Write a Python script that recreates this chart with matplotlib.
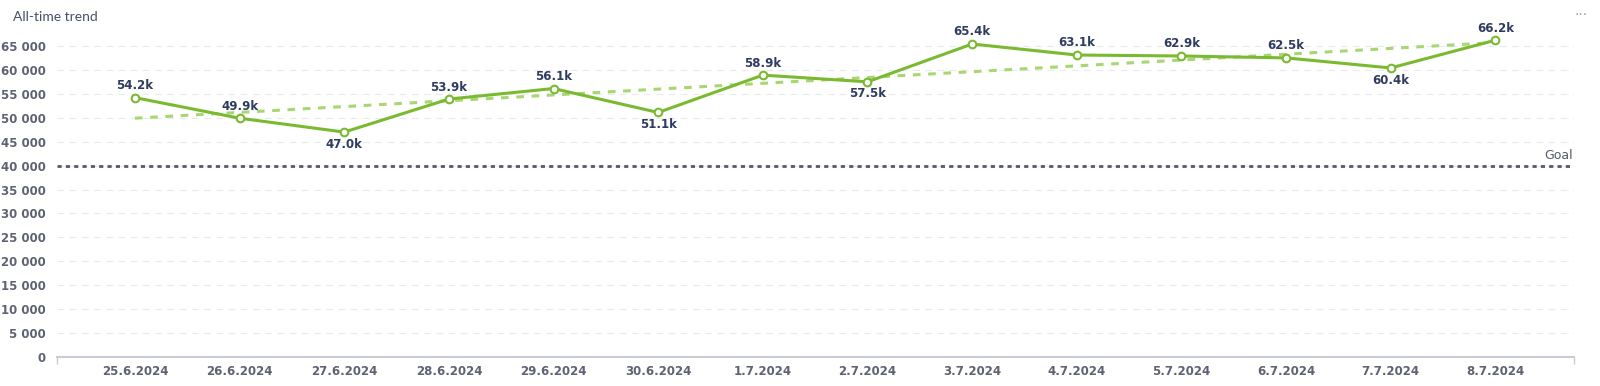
import matplotlib
matplotlib.use('Agg')
import matplotlib.pyplot as plt
from matplotlib.ticker import FuncFormatter

dates = ['25.6.2024', '26.6.2024', '27.6.2024', '28.6.2024', '29.6.2024', '30.6.2024', '1.7.2024',
         '2.7.2024', '3.7.2024', '4.7.2024', '5.7.2024', '6.7.2024', '7.7.2024', '8.7.2024']
values = [54200, 49900, 47000, 53900, 56100, 51100, 58900, 57500, 65400, 63100, 62900, 62500, 60400, 66200]
trend_ends = [49900, 65700]
goal = 40000
yticks = list(range(0, 65001, 5000))

GREEN = '#7aba31'
TREND = '#a8d673'
LABEL = '#2f3b5f'
TICK = '#5e6272'

fig = plt.figure(figsize=(16, 3.86), dpi=100)
ax = fig.add_axes([0.0356, 0.075, 0.9484, 0.868])

x = list(range(len(dates)))
ax.set_xlim(-0.745, len(dates) - 1 + 0.755)
ax.set_ylim(0, 70000)

for t in yticks[1:]:
    ax.axhline(t, color='#e9eaee', lw=0.8, ls=(0, (6, 5)), zorder=0)

ax.axhline(goal, color='#555a68', lw=2, ls=(0, (1.5, 1.5)), zorder=1)
ax.text(len(dates) - 1 + 0.74, goal + 800, 'Goal', ha='right', va='bottom',
        fontsize=9, color='#555a68', family='DejaVu Sans')

ax.plot([x[0], x[-1]], trend_ends, color=TREND, lw=2.2, ls=(0, (2.5, 2.5)), zorder=2)
ax.plot(x, values, color=GREEN, lw=2.2, zorder=3, marker='o', ms=5.5,
        mfc='white', mec=GREEN, mew=1.5)

for i, v in enumerate(values):
    lower = (0 < i < len(values) - 1 and v < values[i - 1] and v < values[i + 1])
    off = -4 if lower else 4
    ax.annotate(f'{v / 1000:.1f}k', (i, v), xytext=(0, off), textcoords='offset points',
                ha='center', va='top' if lower else 'bottom', fontsize=8.5,
                fontweight='bold', color=LABEL)

ax.set_xticks(x)
ax.set_xticklabels(dates)
ax.set_yticks(yticks)
ax.yaxis.set_major_formatter(FuncFormatter(lambda v, p: f'{int(v):,}'.replace(',', ' ')))
ax.tick_params(axis='both', length=0, labelsize=8.5, labelcolor=TICK, pad=8)
ax.tick_params(axis='x', pad=6)
for lab in ax.get_xticklabels() + ax.get_yticklabels():
    lab.set_fontweight('bold')

for s in ['top', 'right', 'left']:
    ax.spines[s].set_visible(False)
ax.spines['bottom'].set_color('#c9ccd6')
ax.spines['bottom'].set_linewidth(1.5)
ax.set_xticks(list(ax.get_xlim()), minor=True)
ax.tick_params(axis='x', which='minor', length=5, color='#c9ccd6', width=1)

fig.text(0.008, 0.955, 'All-time trend', fontsize=10, color='#485068', family='Lato', va='center')
fig.text(0.992, 0.96, '···', fontsize=10, color='#9aa0ad', ha='right', va='center')

fig.savefig('out.png', dpi=100, facecolor='white')
